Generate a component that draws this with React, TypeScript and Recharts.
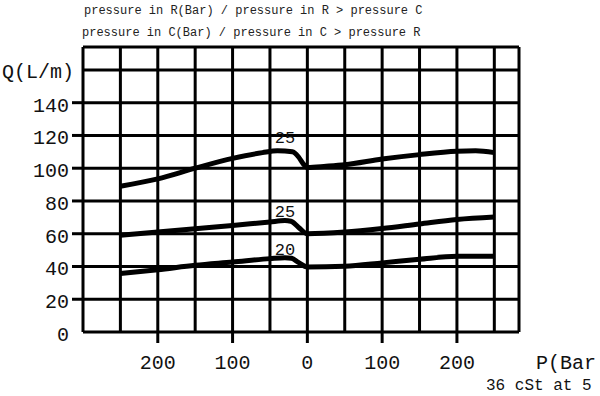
import React from 'react';
import { LineChart, Line, XAxis, YAxis, ReferenceLine, ReferenceDot } from 'recharts';

// ---- data ----
const topP = [-250, -200, -150, -100, -60, -40, -20, -12, -6, 0, 25, 50, 100, 150, 200, 225, 250];
const topQ = [89, 93.5, 100, 106, 109.5, 110.6, 110, 107, 103, 100.5, 101.2, 102.1, 105.6, 108.3, 110.3, 110.6, 109.5];

const midP = [-250, -200, -150, -100, -50, -30, -22, -12, 0, 50, 100, 150, 200, 250];
const midQ = [59, 61, 63, 65, 67.2, 68, 67.6, 64, 60, 61, 63.2, 66, 68.7, 70.2];

const lowP = [-250, -200, -150, -100, -50, -30, -21, -12, 0, 50, 100, 150, 200, 250];
const lowQ = [35.7, 38, 40.7, 42.7, 44.8, 45.4, 45, 42.5, 39.7, 40.2, 42.2, 44.4, 46.2, 46.3];

const curveLabels = ['25', '25', '20'];
const curveLabelP = [-30, -30, -30];
const curveLabelQ = [118.9, 73.9, 50.9];

const xTicks = [-200, -100, 0, 100, 200];
const yTicks = [0, 20, 40, 60, 80, 100, 120, 140, 160];
const gridX = [-250, -200, -150, -100, -50, 0, 50, 100, 150, 200, 250];
const gridY = [20, 40, 60, 80, 100, 120, 140, 160];
const xDomain = [-300, 283];
const yDomain = [0, 174];

const yUnitLabel = 'Q(L/m)';
const xUnitLabel = 'P(Bar';
const noteLabel = '36 cSt at 5';
const header1 = 'pressure in R(Bar) / pressure in R > pressure C';
const header2 = 'pressure in C(Bar) / pressure in C > pressure R';

const build = (ps: number[], qs: number[]) => ps.map((p, i) => ({ p, q: qs[i] }));
const topData = build(topP, topQ);
const midData = build(midP, midQ);
const lowData = build(lowP, lowQ);

const FONT = '"Liberation Mono", "Courier New", monospace';

const YTick = (props: any) => {
  const { x, y, payload } = props;
  const v = payload.value;
  if (v === 160) {
    return (
      <text x={x + 5} y={y + 8} textAnchor="end" fontFamily={FONT} fontSize={20} fill="#111">
        {yUnitLabel}
      </text>
    );
  }
  return (
    <g>
      {v !== 0 && <line x1={x + 3} x2={x + 14} y1={y} y2={y} stroke="#000" strokeWidth={3} />}
      <text x={x} y={y + 9} textAnchor="end" fontFamily={FONT} fontSize={20} fill="#111">
        {v}
      </text>
    </g>
  );
};

const XTick = (props: any) => {
  const { x, y, payload } = props;
  return (
    <g>
      <line x1={x} x2={x} y1={y - 13} y2={y - 2} stroke="#000" strokeWidth={3} />
      <text x={x} y={y + 24} textAnchor="middle" fontFamily={FONT} fontSize={20} fill="#111">
        {Math.abs(payload.value)}
      </text>
    </g>
  );
};

export default function App() {
  return (
    <div style={{ position: 'relative', width: 600, height: 396, overflow: 'hidden', background: '#fff' }}>
      <style>{'body{margin:0}'}</style>
      <LineChart
        width={600}
        height={396}
        margin={{ top: 47, right: 81, bottom: 0, left: 0 }}
      >
        <XAxis
          dataKey="p"
          type="number"
          domain={xDomain}
          ticks={xTicks}
          allowDataOverflow
          axisLine={false}
          tickLine={false}
          tickSize={11}
          tickMargin={2}
          height={64}
          tick={<XTick />}
          interval={0}
        />
        <YAxis
          dataKey="q"
          type="number"
          domain={yDomain}
          ticks={yTicks}
          allowDataOverflow
          axisLine={false}
          tickLine={false}
          tickSize={11}
          tickMargin={3}
          width={83}
          tick={<YTick />}
          interval={0}
        />
        {gridX.map((v) => (
          <ReferenceLine key={'gx' + v} x={v} stroke="#000" strokeWidth={3} />
        ))}
        {gridY.map((v) => (
          <ReferenceLine key={'gy' + v} y={v} stroke="#000" strokeWidth={3} />
        ))}
        <ReferenceLine x={xDomain[0]} stroke="#000" strokeWidth={3} />
        <ReferenceLine x={xDomain[1]} stroke="#000" strokeWidth={3} />
        <ReferenceLine y={yDomain[0]} stroke="#000" strokeWidth={3} />
        <ReferenceLine y={yDomain[1]} stroke="#000" strokeWidth={3} />
        <Line data={topData} dataKey="q" type="monotone" stroke="#000" strokeWidth={5} dot={false} isAnimationActive={false} />
        <Line data={midData} dataKey="q" type="monotone" stroke="#000" strokeWidth={5} dot={false} isAnimationActive={false} />
        <Line data={lowData} dataKey="q" type="monotone" stroke="#000" strokeWidth={5} dot={false} isAnimationActive={false} />
        {curveLabels.map((t, i) => (
          <ReferenceDot
            key={'cl' + i}
            x={curveLabelP[i]}
            y={curveLabelQ[i]}
            r={0}
            fill="none"
            stroke="none"
            label={{ value: t, position: 'center', fontFamily: FONT, fontSize: 17, fill: '#111' }}
          />
        ))}
      </LineChart>
      <svg width={600} height={396} style={{ position: 'absolute', left: 0, top: 0, pointerEvents: 'none' }}>
        <text x={84} y={14} fontFamily={FONT} fontSize={12} fill="#222">{header1}</text>
        <text x={82} y={36} fontFamily={FONT} fontSize={12} fill="#222">{header2}</text>
        <text x={536} y={369} fontFamily={FONT} fontSize={20} fill="#111">{xUnitLabel}</text>
        <text x={486} y={390} fontFamily={FONT} fontSize={16} fill="#111">{noteLabel}</text>
      </svg>
    </div>
  );
}
